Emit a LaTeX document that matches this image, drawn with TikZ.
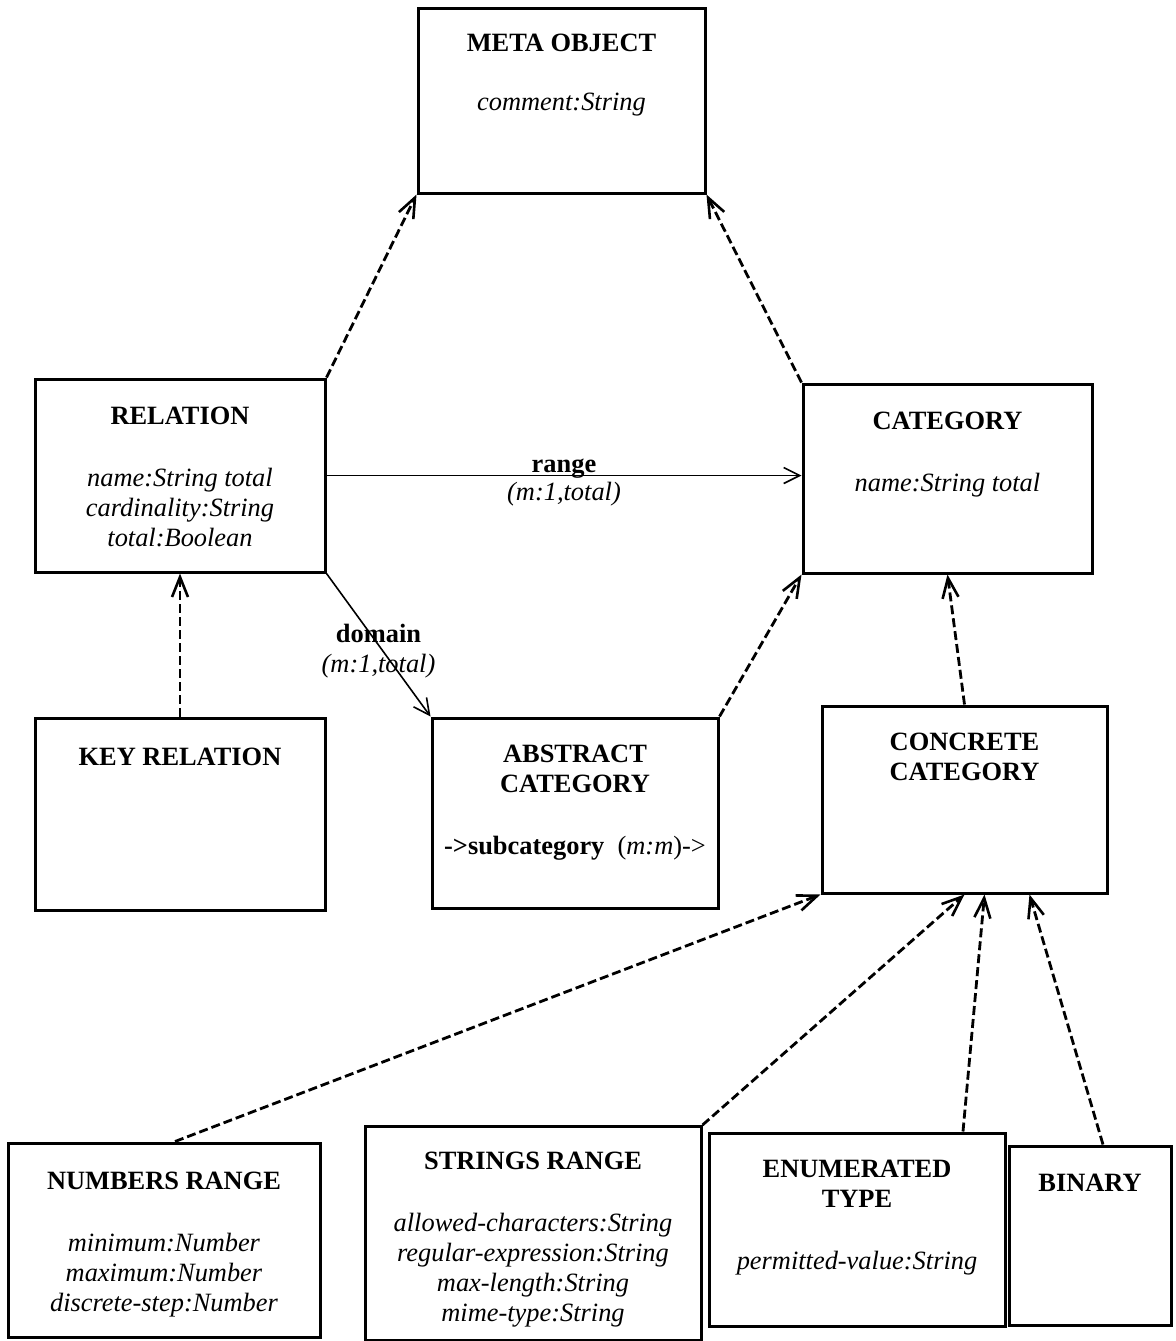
\documentclass[tikz,border=0pt]{standalone}
\usepackage{fontspec}
\setmainfont{Liberation Serif}
\usetikzlibrary{positioning,
	calc,
	arrows.meta}

\tikzset{
	cls/.style={draw, line width=1.5pt, rectangle, inner sep=0pt},
	clstxt/.style={align=center, inner sep=0pt},
	isa/.style={line width=1.4pt, dash pattern=on 4.5pt off 2pt,
		-{Straight Barb[length=10pt,width=8pt,line width=1.3pt]}},
	assoc/.style={line width=0.8pt, -{Straight Barb[length=8pt,width=8pt]}}
}

\begin{document}
\begin{tikzpicture}[x=0.5pt, y=-0.5pt, font=\fontsize{13.2}{15}\selectfont]
		\useasboundingbox (0,0) rectangle (1176,1341);
		% class boxes
		\node [cls, minimum width=143.5pt, minimum height=92.5pt] (meta) at (561.5,100.5) {};
		\node [cls, minimum width=145pt, minimum height=96.5pt] (rel) at (180,475.5) {};
		\node [cls, minimum width=144.5pt, minimum height=94.5pt] (cat) at (947.5,478.5) {};
		\node [cls, minimum width=145pt, minimum height=96pt] (key) at (180,814) {};
		\node [cls, minimum width=143pt, minimum height=95pt] (abs) at (575,813) {};
		\node [cls, minimum width=142.5pt, minimum height=93.5pt] (conc) at (964.5,799.5) {};
		\node [cls, minimum width=156pt, minimum height=97pt] (num) at (164,1240) {};
		\node [cls, minimum width=168pt, minimum height=107pt] (str) at (533,1233.5) {};
		\node [cls, minimum width=148pt, minimum height=96.5pt] (enum) at (857,1229.5) {};
		\node [cls, minimum width=81pt, minimum height=89.5pt] (bin) at (1090,1235.5) {};

		% class texts
		\node [clstxt, below=13.5pt of meta.north] (meta-txt) {\textbf{META OBJECT}\\[14.5pt]
			\textit{comment:String}};
		\node [clstxt, below=14.5pt of rel.north] (rel-txt) {\textbf{RELATION}\\[16pt]
			\textit{name:String total}\\ \textit{cardinality:String}\\ \textit{total:Boolean}};
		\node [clstxt, below=14.5pt of cat.north] (cat-txt) {\textbf{CATEGORY}\\[16pt]
			\textit{name:String total}};
		\node [clstxt, below=15.5pt of key.north] (key-txt) {\textbf{KEY RELATION}};
		\node [clstxt, below=14pt of abs.north] (abs-txt) {\textbf{ABSTRACT}\\ \textbf{CATEGORY}\\[16pt]
			\textbf{->subcategory}\ \ (\textit{m:m})->};
		\node [clstxt, below=14pt of conc.north] (conc-txt) {\textbf{CONCRETE}\\ \textbf{CATEGORY}};
		\node [clstxt, below=15pt of num.north] (num-txt) {\textbf{NUMBERS RANGE}\\[16pt]
			\textit{minimum:Number}\\ \textit{maximum:Number}\\ \textit{discrete-step:Number}};
		\node [clstxt, below=13.5pt of str.north] (str-txt) {\textbf{STRINGS RANGE}\\[16pt]
			\textit{allowed-characters:String}\\ \textit{regular-expression:String}\\
			\textit{max-length:String}\\ \textit{mime-type:String}};
		\node [clstxt, below=14pt of enum.north] (enum-txt) {\textbf{ENUMERATED}\\ \textbf{TYPE}\\[16pt]
			\textit{permitted-value:String}};
		\node [clstxt, below=14.5pt of bin.north] (bin-txt) {\textbf{BINARY}};

		% generalisations
		\draw [isa] (rel.north east) -- (meta.south west);
		\draw [isa] (cat.north west) -- (meta.south east);
		\draw [isa] (key.north) -- (rel.south);
		\draw [isa] (abs.north east) -- (cat.south west);
		\draw [isa] (conc.north) -- (cat.south);
		\draw [isa] ($(num.north)+(11,0)$) -- (conc.south west);
		\draw [isa] (str.north east) -- (conc.south);
		\draw [isa] ($(enum.north)+(106,0)$) -- ($(conc.south)+(20,0)$);
		\draw [isa] ($(bin.north)+(13,0)$) -- ($(conc.south)+(65,0)$);

		% associations
		\draw [assoc] (rel.east) -- (rel.east -| cat.west)
			node [midway, anchor=base, yshift=1.5pt] (rng) {\textbf{range}}
			node [midway, anchor=base, yshift=-12.5pt] (rng-c) {\textit{(m:1,total)}};
		\draw [assoc] (rel.south east) -- (abs.north west)
			node [midway, yshift=-3pt, align=center] (dom) {\textbf{domain}\\ \textit{(m:1,total)}};
	\end{tikzpicture}
\end{document}
